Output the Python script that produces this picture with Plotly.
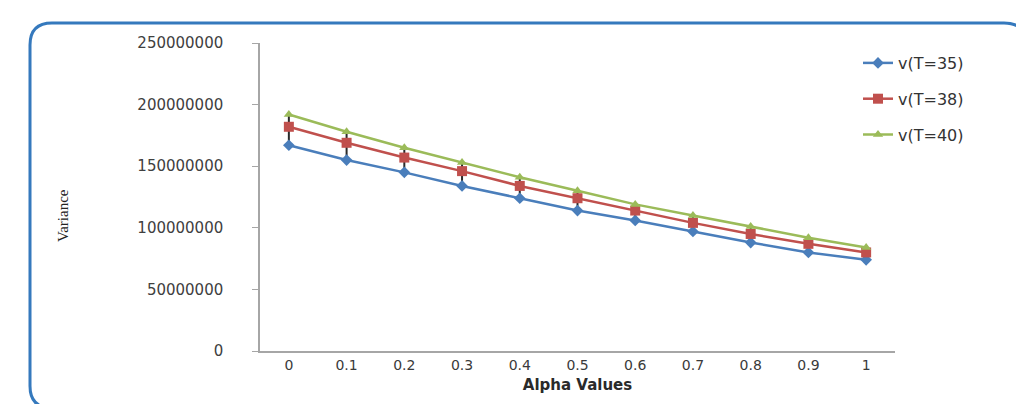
import plotly.graph_objects as go

alpha = ["0", "0.1", "0.2", "0.3", "0.4", "0.5", "0.6", "0.7", "0.8", "0.9", "1"]
v_t35 = [167e6, 155e6, 145e6, 134e6, 124e6, 114e6, 106e6, 97e6, 88e6, 80e6, 74e6]
v_t38 = [182e6, 169e6, 157e6, 146e6, 134e6, 124e6, 114e6, 104e6, 95e6, 87e6, 80e6]
v_t40 = [192e6, 178e6, 165e6, 153e6, 141e6, 130e6, 119e6, 110e6, 101e6, 92e6, 84e6]
y_ticks = [0, 50000000, 100000000, 150000000, 200000000, 250000000]
y_ticklabels = ["0", "50000000", "100000000", "150000000", "200000000", "250000000"]

W, H = 1024, 404
L, R, T, B = 252, 137, 35, 61
pw, ph = W - L - R, H - T - B

def px(x):
    return (x - L) / pw

def py(y):
    return (H - B - y) / ph

def rounded_rect(x0, y0, x1, y1, r):
    pts = [
        f"M {px(x0 + r)},{py(y0)}",
        f"L {px(x1 - r)},{py(y0)}",
        f"Q {px(x1)},{py(y0)} {px(x1)},{py(y0 + r)}",
        f"L {px(x1)},{py(y1 - r)}",
        f"Q {px(x1)},{py(y1)} {px(x1 - r)},{py(y1)}",
        f"L {px(x0 + r)},{py(y1)}",
        f"Q {px(x0)},{py(y1)} {px(x0)},{py(y1 - r)}",
        f"L {px(x0)},{py(y0 + r)}",
        f"Q {px(x0)},{py(y0)} {px(x0 + r)},{py(y0)}",
        "Z",
    ]
    return " ".join(pts)

font_main = "DejaVu Sans"
txt_col = "#404040"

fig = go.Figure()

fig.add_trace(go.Scatter(
    x=alpha, y=v_t35, name="v(T=35)", mode="lines+markers", legendgroup="a",
    line=dict(color="#4A7EBB", width=2.5),
    marker=dict(symbol="diamond", size=9, color="#4A7EBB"),
    error_y=dict(type="data", symmetric=False,
                 array=[g - b for g, b in zip(v_t40, v_t35)],
                 arrayminus=[0] * len(v_t35),
                 color="#2a2a2a", thickness=2, width=0),
))
fig.add_trace(go.Scatter(
    x=alpha, y=v_t38, name="v(T=38)", mode="lines+markers", legendgroup="b",
    line=dict(color="#C0504D", width=2.5),
    marker=dict(symbol="square", size=10, color="#C0504D"),
))
fig.add_trace(go.Scatter(
    x=alpha, y=v_t40, name="v(T=40)", mode="lines+markers", legendgroup="c",
    line=dict(color="#9BBB59", width=2.5),
    marker=dict(symbol="triangle-up", size=9, color="#9BBB59"),
))

fig.update_layout(
    width=W, height=H,
    margin=dict(l=L, r=R, t=T, b=B),
    paper_bgcolor="white", plot_bgcolor="white",
    font=dict(family=font_main, size=14, color=txt_col),
    legend=dict(x=px(850), y=py(38), xanchor="left", yanchor="top",
                font=dict(size=16, color="#333333"), tracegroupgap=12,
                bgcolor="rgba(0,0,0,0)"),
    xaxis=dict(type="category", range=[-0.5, 10.5], showgrid=False,
               showline=True, linecolor="#a6a6a6", linewidth=1.5,
               ticks="", ticklabelstandoff=0,
               tickfont=dict(size=14, color="#3a3a3a"),
               title=dict(text="<b>Alpha Values</b>", standoff=8,
                          font=dict(size=15, color="#2a2a2a"))),
    yaxis=dict(range=[0, 250000000], showgrid=False, zeroline=False,
               showline=True, linecolor="#a6a6a6", linewidth=1.5,
               tickvals=y_ticks, ticktext=y_ticklabels,
               ticks="outside", ticklen=6, tickcolor="#a6a6a6",
               ticklabelstandoff=26,
               tickfont=dict(size=15, color=txt_col)),
    shapes=[dict(type="path", xref="paper", yref="paper",
                 path=rounded_rect(22, 15, 1018, 400, 22),
                 line=dict(color="#3579BD", width=3),
                 fillcolor="rgba(0,0,0,0)", layer="above")],
    annotations=[dict(text="Variance", xref="paper", yref="paper",
                      x=px(45), y=py(208), textangle=-90, showarrow=False,
                      font=dict(family="Liberation Serif", size=15, color="#222222"))],
)

fig.write_html("out.html")
